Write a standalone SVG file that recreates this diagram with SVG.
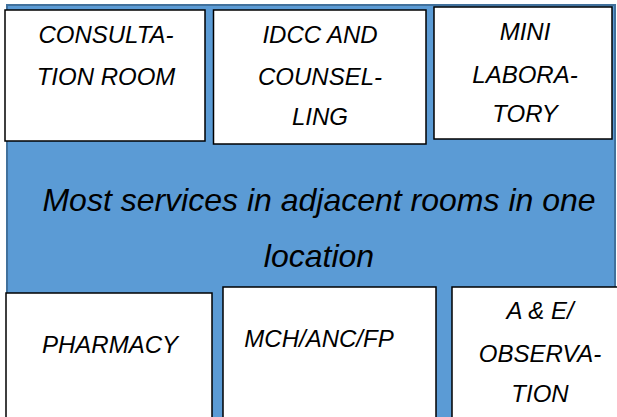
<svg xmlns="http://www.w3.org/2000/svg" width="617" height="417" viewBox="0 0 617 417">
<style>
.bg{fill:#5B9BD5;stroke:#41719C;stroke-width:2}
.box{fill:#fff;stroke:#000;stroke-width:1.5}
.t{font-family:"Liberation Sans",Arial,sans-serif;font-style:italic;font-size:24px;fill:#000;text-anchor:middle}
.big{font-size:32px}
</style>
<rect class="bg" x="7" y="5" width="608" height="420"/>
<text class="t big" x="319" y="211">Most services in adjacent rooms in one</text>
<text class="t big" x="319" y="267">location</text>
<g id="consultation"><rect class="box" x="5" y="10" width="200" height="131"/>
<text class="t" x="106" y="43">CONSULTA-</text><text class="t" x="106" y="85">TION ROOM</text></g>
<g id="idcc"><rect class="box" x="213.5" y="10" width="212.5" height="134"/>
<text class="t" x="320" y="43">IDCC AND</text><text class="t" x="320" y="85">COUNSEL-</text><text class="t" x="320" y="125">LING</text></g>
<g id="lab"><rect class="box" x="434" y="7" width="178" height="132"/>
<text class="t" x="525" y="40">MINI</text><text class="t" x="525" y="83">LABORA-</text><text class="t" x="525" y="122">TORY</text></g>
<g id="pharmacy"><rect class="box" x="6" y="293" width="206" height="140"/>
<text class="t" x="110" y="353">PHARMACY</text></g>
<g id="mch"><rect class="box" x="223" y="287" width="213" height="146"/>
<text class="t" x="319" y="347">MCH/ANC/FP</text></g>
<g id="ae"><rect class="box" x="452" y="287" width="180" height="146"/>
<text class="t" x="540" y="319">A &amp; E/</text><text class="t" x="540" y="362">OBSERVA-</text><text class="t" x="540" y="402">TION</text></g>
<g id="connectors"/>
</svg>
